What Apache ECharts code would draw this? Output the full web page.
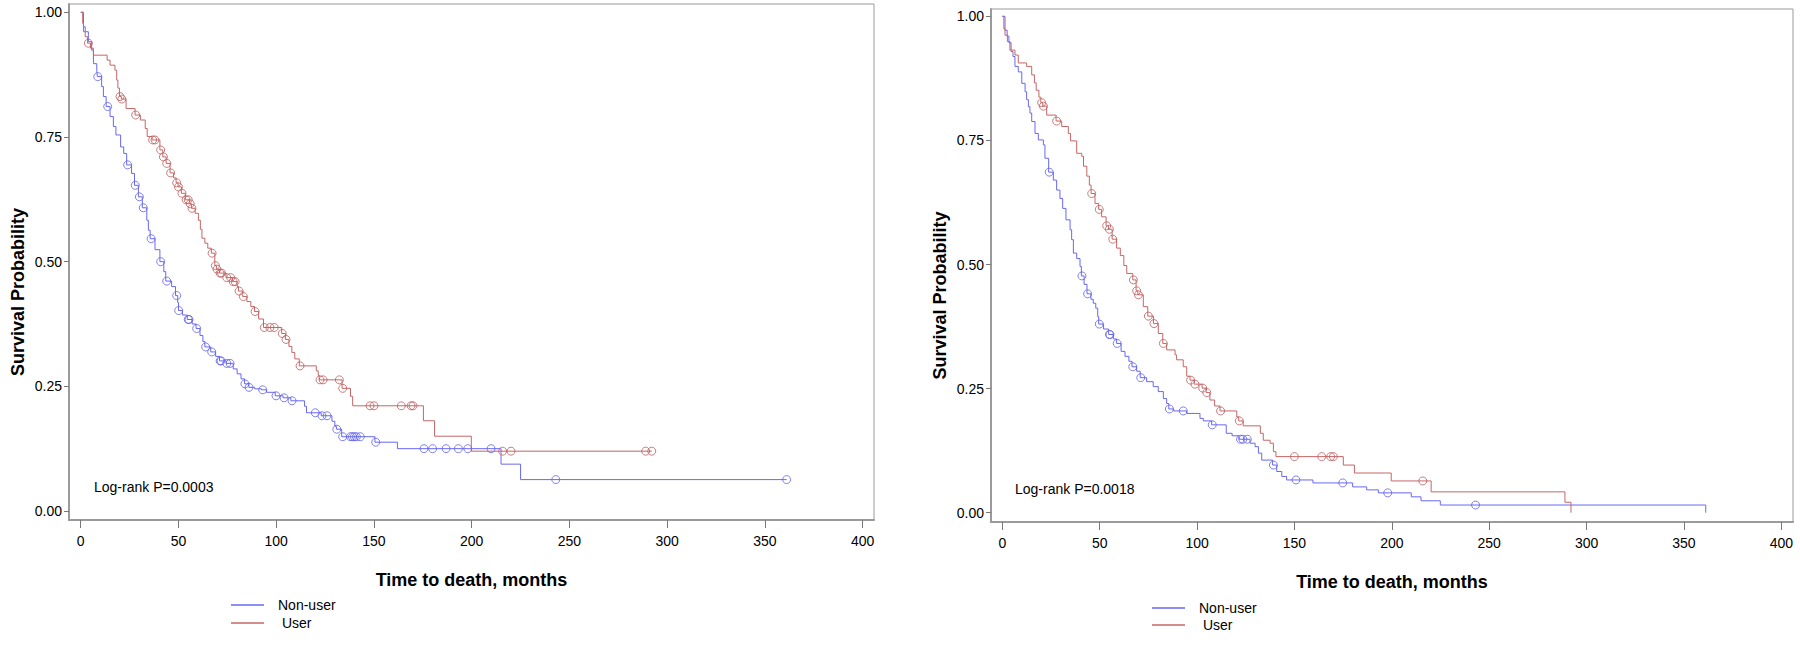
<!DOCTYPE html>
<html>
<head>
<meta charset="utf-8">
<script src="https://cdn.jsdelivr.net/npm/echarts@6/dist/echarts.min.js"></script>
<style>
html,body{margin:0;padding:0;background:#fff;}
#chart{width:1800px;height:648px;}
</style>
</head>
<body>
<div id="chart"></div>
<script>
// ---------- tick labels ----------
const xTicks = [0, 50, 100, 150, 200, 250, 300, 350, 400];
const yTicks = [0, 0.25, 0.5, 0.75, 1];
const seriesNames = ['Non-user', 'User'];
const xTitle = 'Time to death, months';
const yTitle = 'Survival Probability';
const pLabels = ['Log-rank P=0.0003', 'Log-rank P=0.0018'];

// ---------- LEFT panel: Kaplan-Meier steps (time, survival after step) ----------
const leftNonUserT = [0,1.4,2.3,3.9,5.6,6.5,8.2,8.5,10.7,11.6,13,15,16.7,18,20.4,22,23.5,26,27.5,29.5,31.5,33.8,34.6,35.5,38,40.5,42.5,43.5,46.5,48.5,49.6,50,52,54.5,57,59,61,62.5,63.5,66.5,69,71,74.5,78,80,82,83.8,86,89,92.5,95,99.5,103.5,107.5,114.5,115.5,123,128.5,130,130.8,133.5,150.5,162,215,225,361.1];
const leftNonUserS = [1,0.971,0.961,0.941,0.924,0.897,0.884,0.871,0.851,0.831,0.811,0.791,0.771,0.754,0.730,0.717,0.694,0.677,0.653,0.630,0.608,0.583,0.563,0.546,0.524,0.500,0.480,0.461,0.450,0.432,0.418,0.402,0.393,0.384,0.375,0.366,0.352,0.340,0.329,0.319,0.310,0.301,0.296,0.285,0.275,0.265,0.255,0.248,0.245,0.243,0.238,0.231,0.227,0.221,0.210,0.197,0.191,0.180,0.170,0.164,0.149,0.138,0.125,0.094,0.063,0.063];
const leftNonUserCensT = [8.7,13.8,24,27.9,30,32,36,40.9,44,49.1,50.1,55,55.4,59.3,63.9,67,71.3,71.8,74.7,76.4,84,86.1,93.1,99.9,104,108.1,120,123.4,126,131,134,138,139,140,141,143,150.9,175.6,180,186.9,193.2,198,209.9,243,361.1];
const leftNonUserCensS = [0.871,0.811,0.694,0.653,0.630,0.608,0.546,0.500,0.461,0.432,0.402,0.384,0.384,0.366,0.329,0.319,0.301,0.301,0.296,0.296,0.255,0.248,0.243,0.231,0.227,0.221,0.197,0.191,0.191,0.164,0.149,0.149,0.149,0.149,0.149,0.149,0.138,0.125,0.125,0.125,0.125,0.125,0.125,0.063,0.063];

const leftUserT = [0,1,1.4,2.3,3.5,5,6.5,13.5,15,17.5,18.4,19,19.8,20.8,23.2,27.8,30.5,33,34,36.5,40.5,42,43.7,45.7,47.5,48.8,49.8,51.5,53.5,55.8,56.6,58.5,60.2,61.2,62,63.5,65,66.8,68.6,69.4,71,74.3,77.7,80,80.7,82.9,85,87,88.9,91,93.5,102.8,104.7,106.5,108,109.5,111.8,120.5,121.5,122,133.7,138,139.1,175.3,181,199.8,292.1];
const leftUserS = [1,0.978,0.961,0.951,0.938,0.928,0.914,0.904,0.894,0.884,0.864,0.848,0.831,0.826,0.807,0.794,0.784,0.767,0.751,0.744,0.724,0.710,0.697,0.678,0.668,0.658,0.650,0.637,0.624,0.616,0.607,0.597,0.583,0.565,0.547,0.537,0.527,0.517,0.492,0.485,0.477,0.468,0.460,0.450,0.441,0.430,0.420,0.410,0.400,0.385,0.368,0.356,0.344,0.330,0.318,0.305,0.291,0.281,0.272,0.263,0.246,0.230,0.211,0.181,0.150,0.120,0.120];
const leftUserCensT = [3.9,20.1,21,28.1,36.8,38,40.9,42.3,44,46,49.1,50,51.8,53.9,55,56,56.9,67.2,68.9,69.7,71.3,72,74.7,76.7,78,79,81,83.2,89.2,93.9,96.8,99,103.1,105,112.2,122.4,124,132.3,134,148,150,164,169,170,215.8,220.1,289,292.1];
const leftUserCensS = [0.938,0.831,0.826,0.794,0.744,0.744,0.724,0.710,0.697,0.678,0.658,0.650,0.637,0.624,0.624,0.616,0.607,0.517,0.492,0.485,0.477,0.477,0.468,0.468,0.460,0.460,0.441,0.430,0.400,0.368,0.368,0.368,0.356,0.344,0.291,0.263,0.263,0.263,0.246,0.211,0.211,0.211,0.211,0.211,0.120,0.120,0.120,0.120];

// ---------- RIGHT panel ----------
const rightNonUserT = [0,1.4,2.5,3.4,4.5,5.5,6.5,8.2,10,11.7,12.5,13.4,14.2,15.1,16.8,18.5,21.1,21.9,23.8,26.2,27.9,29.6,31,32.7,34.8,35.6,36.5,38.2,39.9,40.6,42,43.5,45.5,46.7,48,49,49.5,52,54.6,57,58.7,61,63,65,66.6,69,70.8,74.1,77.5,80.1,82.7,84.4,85.5,88,94.7,101.5,103.2,107.5,115,118,121.5,127.2,129.8,131.5,133.2,138.8,140.9,143.5,146,159.5,179.9,187.1,193.1,210,215,224.9,361.2];
const rightNonUserS = [1,0.972,0.960,0.947,0.929,0.919,0.899,0.888,0.865,0.848,0.832,0.818,0.805,0.788,0.764,0.751,0.741,0.714,0.686,0.670,0.650,0.633,0.613,0.590,0.570,0.550,0.523,0.512,0.496,0.477,0.460,0.441,0.430,0.422,0.412,0.395,0.380,0.370,0.359,0.350,0.341,0.325,0.315,0.305,0.294,0.285,0.272,0.264,0.254,0.244,0.230,0.220,0.209,0.205,0.200,0.190,0.185,0.177,0.160,0.155,0.148,0.140,0.133,0.120,0.106,0.096,0.083,0.073,0.066,0.060,0.052,0.046,0.040,0.032,0.024,0.0155,0];
const rightNonUserCensT = [24.1,40.9,43.8,49.8,55,55.3,59,67,71.1,85.8,92.9,107.8,122.3,123.5,125.8,139.2,150.8,174.8,197.9,243];
const rightNonUserCensS = [0.686,0.477,0.441,0.380,0.359,0.359,0.341,0.294,0.272,0.209,0.205,0.177,0.148,0.148,0.148,0.096,0.066,0.060,0.040,0.0155];

const rightUserT = [0,0.8,1.4,2.6,3.9,6.5,8.2,12.5,15.1,16.5,17.4,18.8,19.8,20.8,22.8,27.6,30.5,33.9,35,38.2,40.8,41.7,43.4,44.7,45.6,47.6,49.5,51,53.3,54.5,56.4,58.7,60.6,62.4,63.9,67,68.7,69.6,72.4,74.7,77.6,80.1,82.4,84.4,88.7,89.5,92.9,94.7,96.4,98.6,102.6,104.7,106.6,109,111.8,120.4,121.4,123.7,132.5,134,137.5,139.2,140.5,175.1,180.8,199.7,220.2,288.9,292];
const rightUserS = [1,0.975,0.962,0.949,0.932,0.922,0.906,0.899,0.882,0.866,0.851,0.837,0.826,0.819,0.801,0.789,0.778,0.764,0.749,0.724,0.718,0.698,0.678,0.660,0.643,0.623,0.611,0.596,0.578,0.571,0.551,0.533,0.518,0.498,0.482,0.469,0.447,0.439,0.415,0.396,0.381,0.361,0.341,0.328,0.318,0.308,0.294,0.275,0.267,0.259,0.251,0.242,0.227,0.215,0.205,0.193,0.185,0.175,0.160,0.146,0.140,0.123,0.113,0.096,0.080,0.064,0.042,0.021,0];
const rightUserCensT = [20.2,21.1,27.9,45.9,49.8,53.6,55,56.7,67.3,69,69.9,75,77.9,82.7,96.7,98.9,102.9,105,112.1,121.7,150,164,168.6,170,215.9];
const rightUserCensS = [0.826,0.819,0.789,0.643,0.611,0.578,0.571,0.551,0.469,0.447,0.439,0.396,0.381,0.341,0.267,0.259,0.251,0.242,0.205,0.185,0.113,0.113,0.113,0.113,0.064];

// ---------- styling ----------
const FONT = '"Liberation Sans", Arial, Helvetica, sans-serif';
const BLUE = '#6868f4';
const RED = '#c66666';
const BLUE_C = '#6262ee';
const RED_C = '#bf5c5c';
const FRAME = '#9a9a9a';

const zip = (a, b) => a.map((v, i) => [v, b[i]]);

const panels = [
  { grid: { left: 69, top: 4, width: 805, height: 516 }, xMin: -6, xMax: 405.8, yMin: -0.018, yMax: 1.0166,
    nu: [leftNonUserT, leftNonUserS], us: [leftUserT, leftUserS],
    nuC: [leftNonUserCensT, leftNonUserCensS], usC: [leftUserCensT, leftUserCensS],
    legend: { left: 226, top: 593, gap: 4 }, p: { x: 94, y: 480 } },
  { grid: { left: 991, top: 9, width: 802, height: 513 }, xMin: -5.8, xMax: 406, yMin: -0.0187, yMax: 1.0147,
    nu: [rightNonUserT, rightNonUserS], us: [rightUserT, rightUserS],
    nuC: [rightNonUserCensT, rightNonUserCensS], usC: [rightUserCensT, rightUserCensS],
    legend: { left: 1147, top: 596, gap: 3 }, p: { x: 1015, y: 482 } }
];

const grid = [], xAxis = [], yAxis = [], series = [], legend = [], graphic = [];
panels.forEach((pn, k) => {
  grid.push(Object.assign({ show: true, borderColor: FRAME, borderWidth: 1, backgroundColor: '#fff' }, pn.grid));
  xAxis.push({
    type: 'value', gridIndex: k, min: pn.xMin, max: pn.xMax,
    name: xTitle, nameLocation: 'middle', nameGap: 51,
    nameTextStyle: { fontFamily: FONT, fontSize: 18, fontWeight: 'bold', color: '#000' },
    axisLine: { show: true, onZero: false, lineStyle: { color: FRAME, width: 2 } },
    axisTick: { show: true, length: 8, customValues: xTicks, lineStyle: { color: '#777', width: 1 } },
    axisLabel: { customValues: xTicks, margin: 14, fontFamily: FONT, fontSize: 14, color: '#000' },
    splitLine: { show: false }
  });
  yAxis.push({
    type: 'value', gridIndex: k, min: pn.yMin, max: pn.yMax,
    name: yTitle, nameLocation: 'middle', nameGap: 42,
    nameTextStyle: { fontFamily: FONT, fontSize: 18, fontWeight: 'bold', color: '#000', padding: [0, 60, 0, 0] },
    axisLine: { show: true, onZero: false, lineStyle: { color: FRAME, width: 2 } },
    axisTick: { show: true, length: 5, customValues: yTicks, lineStyle: { color: '#777', width: 1 } },
    axisLabel: { customValues: yTicks, margin: 7, fontFamily: FONT, fontSize: 14, color: '#000',
      formatter: v => Number(v).toFixed(2) },
    splitLine: { show: false }
  });
  series.push(
    { type: 'line', name: seriesNames[0], xAxisIndex: k, yAxisIndex: k, step: 'end', showSymbol: false,
      data: zip(pn.nu[0], pn.nu[1]), lineStyle: { color: BLUE, width: 1 }, itemStyle: { color: BLUE }, z: 3 },
    { type: 'line', name: seriesNames[1], xAxisIndex: k, yAxisIndex: k, step: 'end', showSymbol: false,
      data: zip(pn.us[0], pn.us[1]), lineStyle: { color: RED, width: 1 }, itemStyle: { color: RED }, z: 3 },
    { type: 'scatter', name: seriesNames[0] + ' censored', xAxisIndex: k, yAxisIndex: k, symbol: 'circle', symbolSize: 8,
      data: zip(pn.nuC[0], pn.nuC[1]), itemStyle: { color: 'rgba(0,0,0,0)', borderColor: BLUE_C, borderWidth: 1 }, z: 4 },
    { type: 'scatter', name: seriesNames[1] + ' censored', xAxisIndex: k, yAxisIndex: k, symbol: 'circle', symbolSize: 8,
      data: zip(pn.usC[0], pn.usC[1]), itemStyle: { color: 'rgba(0,0,0,0)', borderColor: RED_C, borderWidth: 1 }, z: 4 }
  );
  legend.push({
    data: seriesNames, orient: 'vertical', left: pn.legend.left, top: pn.legend.top,
    itemWidth: 33, itemHeight: 1.5, itemGap: pn.legend.gap, icon: 'rect', selectedMode: false,
    formatter: n => (n === 'User' ? ' ' + n : n),
    textStyle: { fontFamily: FONT, fontSize: 14, lineHeight: 14, color: '#000', padding: [0, 0, 0, 9] }
  });
  graphic.push({ type: 'text', left: pn.p.x, top: pn.p.y,
    style: { text: pLabels[k], fontFamily: FONT, fontSize: 14, fill: '#000' } });
});

const chart = echarts.init(document.getElementById('chart'), null, { renderer: 'svg' });
chart.setOption({ animation: false, backgroundColor: '#fff', grid, xAxis, yAxis, series, legend, graphic });
</script>
</body>
</html>
